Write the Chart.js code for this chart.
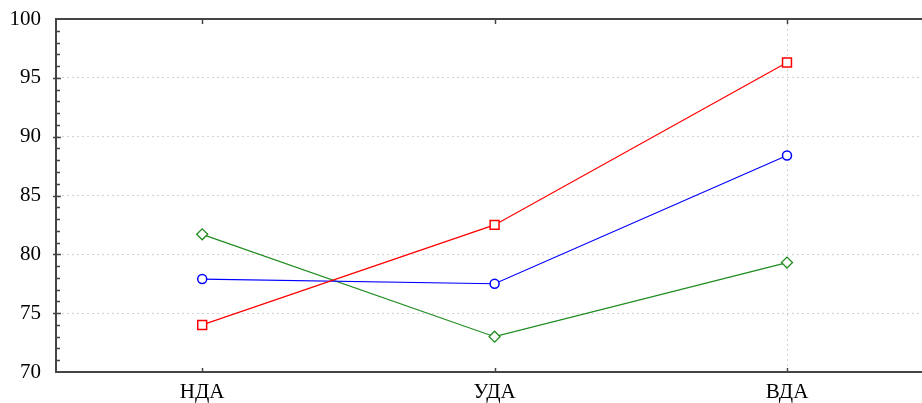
<!DOCTYPE html>
<html>
<head>
<meta charset="utf-8">
<script src="https://cdn.jsdelivr.net/npm/chart.js"></script>
<style>
  html, body { margin: 0; padding: 0; background: #fff; overflow: hidden; }
  #wrap { width: 941px; height: 403px; }
</style>
</head>
<body>
<div id="wrap"><canvas id="myLineChart"></canvas></div>
<script>
// categories (x axis)
const categories = ['НДА', 'УДА', 'ВДА'];

// series values
const redValues = [74.0, 82.5, 96.3];
const blueValues = [77.9, 77.5, 88.4];
const greenValues = [81.7, 73.0, 79.3];

// y axis range / ticks
const yMin = 70;
const yMax = 100;
const yStep = 5;

const axisColor = '#444444';
const gridColor = '#d2d2d2';

// inward tick marks + top frame line
const frameTicks = {
    id: 'frameTicks',
    beforeDatasetsDraw(chart) {
        const { ctx, chartArea, scales } = chart;
        const x = scales.x, y = scales.y;
        ctx.save();
        ctx.strokeStyle = axisColor;
        ctx.lineWidth = 2;
        ctx.beginPath();
        ctx.moveTo(chartArea.left - 1, chartArea.top);
        ctx.lineTo(chartArea.right, chartArea.top);
        ctx.stroke();

        ctx.lineWidth = 1.5;
        ctx.beginPath();
        for (let v = yMin + 1; v < yMax; v++) {
            const py = Math.round(y.getPixelForValue(v)) + 0.5;
            const major = v % yStep === 0;
            ctx.moveTo(chartArea.left - (major ? 3 : 0), py);
            ctx.lineTo(chartArea.left + (major ? 5 : 4), py);
        }
        for (let i = 0; i < categories.length; i++) {
            const px = Math.round(x.getPixelForTick(i)) + 0.5;
            ctx.moveTo(px, chartArea.top);
            ctx.lineTo(px, chartArea.top + 5);
            ctx.moveTo(px, chartArea.bottom);
            ctx.lineTo(px, chartArea.bottom - 4);
        }
        ctx.stroke();
        ctx.restore();
    }
};

const ctx = document.getElementById('myLineChart').getContext('2d');

const myLineChart = new Chart(ctx, {
    type: 'line',
    data: {
        labels: categories,
        datasets: [
            {
                label: 'Серия 1',
                data: redValues,
                borderColor: '#ff0000',
                backgroundColor: '#ffffff',
                borderWidth: 1.2,
                pointStyle: 'rect',
                pointRadius: 6.3,
                pointBorderWidth: 1.5,
                tension: 0
            },
            {
                label: 'Серия 2',
                data: blueValues,
                borderColor: '#0000ff',
                backgroundColor: '#ffffff',
                borderWidth: 1.2,
                pointStyle: 'circle',
                pointRadius: 4.5,
                pointBorderWidth: 1.5,
                tension: 0
            },
            {
                label: 'Серия 3',
                data: greenValues,
                borderColor: '#1e8c1e',
                backgroundColor: '#ffffff',
                borderWidth: 1.2,
                pointStyle: 'rectRot',
                pointRadius: 5.5,
                pointBorderWidth: 1.3,
                tension: 0
            }
        ]
    },
    options: {
        responsive: true,
        maintainAspectRatio: false,
        animation: false,
        layout: { padding: { top: 19, left: 0, right: 1, bottom: 0 } },
        plugins: {
            legend: { display: false },
            tooltip: { enabled: false }
        },
        scales: {
            x: {
                type: 'category',
                offset: true,
                afterFit(scale) {
                    scale.height = 31;
                    scale.paddingLeft = 0;
                    scale.paddingRight = 0;
                },
                grid: {
                    offset: false,
                    drawTicks: false,
                    lineWidth: 1,
                    color: (c) => c.index === 2 ? gridColor : 'rgba(0,0,0,0)'
                },
                border: { display: true, color: axisColor, width: 2, dash: [2, 3] },
                ticks: {
                    color: '#000',
                    padding: 8,
                    font: { family: 'Liberation Serif', size: 21 }
                }
            },
            y: {
                min: yMin,
                max: yMax,
                afterFit(scale) {
                    scale.width = 56;
                    scale.paddingTop = 0;
                    scale.paddingBottom = 0;
                },
                grid: {
                    drawTicks: false,
                    lineWidth: 1,
                    color: (c) => (c.tick && (c.tick.value === yMin || c.tick.value === yMax)) ? 'rgba(0,0,0,0)' : gridColor
                },
                border: { display: true, color: axisColor, width: 2, dash: [2, 3] },
                ticks: {
                    stepSize: yStep,
                    color: '#000',
                    padding: 15,
                    font: { family: 'Liberation Serif', size: 21 }
                }
            }
        }
    },
    plugins: [frameTicks]
});
</script>
</body>
</html>
